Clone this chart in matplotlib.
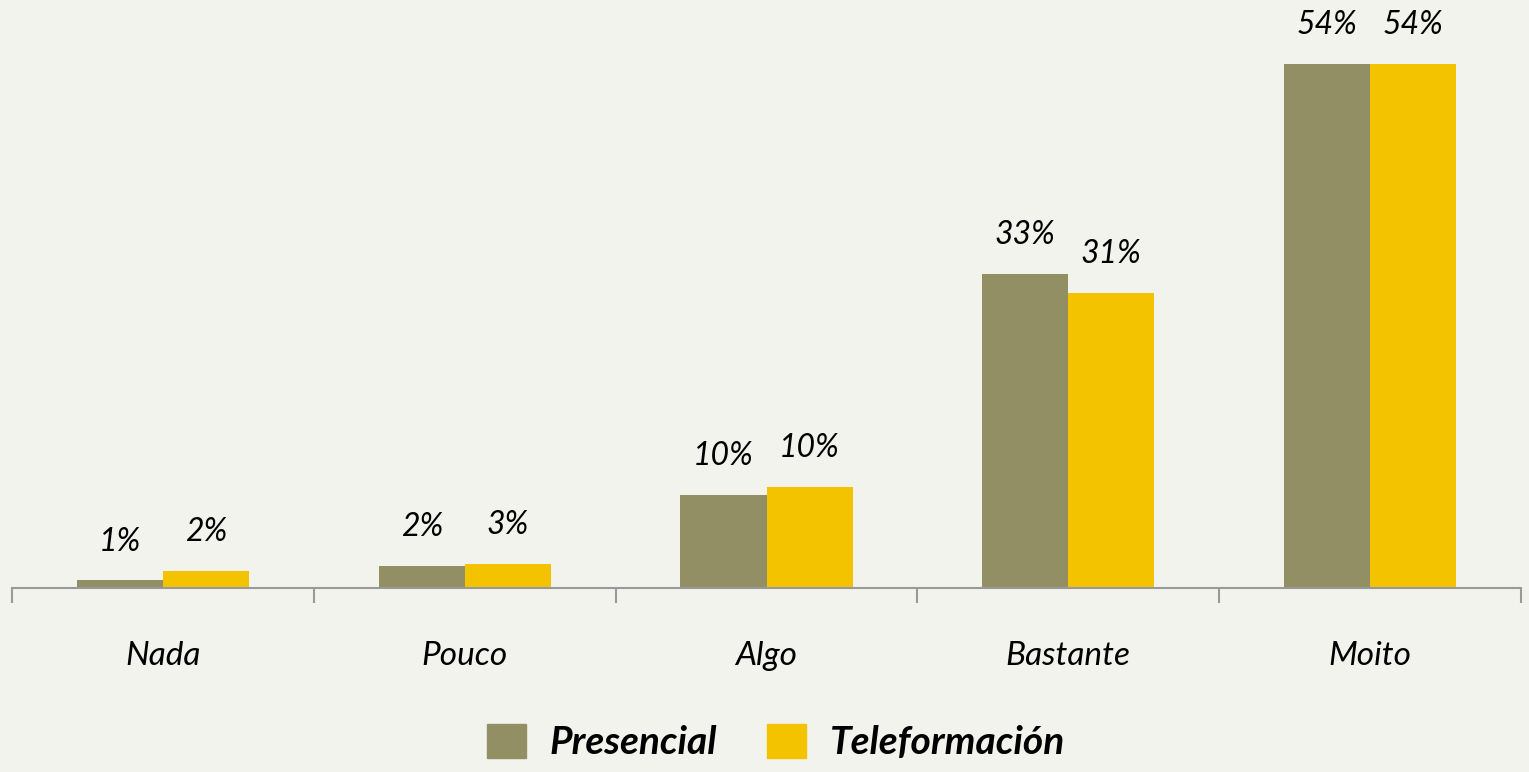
import matplotlib
matplotlib.use("Agg")
import matplotlib.pyplot as plt
import numpy as np
from matplotlib.patches import Patch

categories = ["Nada", "Pouco", "Algo", "Bastante", "Moito"]
presencial = [0.8, 2.3, 9.6, 32.4, 54.0]
teleformacion = [1.75, 2.5, 10.4, 30.4, 54.0]
labels_pres = ["1%", "2%", "10%", "33%", "54%"]
labels_tele = ["2%", "3%", "10%", "31%", "54%"]
series_names = ["Presencial", "Teleformación"]

bg = "#F3F3EE"
c_pres = "#938F65"
c_tele = "#F4C300"
font = ["Lato", "DejaVu Sans"]

W, H = 1529, 772
fig = plt.figure(figsize=(W / 100, H / 100), dpi=100, facecolor=bg)
ax = fig.add_axes([12 / W, 1 - 588 / H, (1521 - 12) / W, 588 / H])
ax.set_facecolor(bg)

x = np.arange(len(categories))
bw = 0.285
b1 = ax.bar(x - bw / 2, presencial, bw, color=c_pres, label=series_names[0])
b2 = ax.bar(x + bw / 2, teleformacion, bw, color=c_tele, label=series_names[1])

ax.set_xlim(-0.5, len(categories) - 0.5)
ax.set_ylim(0, 60.6)

for rects, labs in ((b1, labels_pres), (b2, labels_tele)):
    for r, lab in zip(rects, labs):
        ax.annotate(lab, (r.get_x() + r.get_width() / 2, r.get_height()),
                    xytext=(0, 17), textcoords="offset points", ha="center", va="bottom",
                    fontsize=23, style="italic", family=font, color="black")

for s in ("top", "right", "left"):
    ax.spines[s].set_visible(False)
ax.spines["bottom"].set_color("#999999")
ax.spines["bottom"].set_linewidth(1.5)
ax.set_yticks([])

ax.set_xticks(np.arange(-0.5, len(categories), 1.0))
ax.set_xticklabels([])
ax.tick_params(axis="x", length=11, width=1.5, color="#999999", direction="out")
ax.set_xticks(x, minor=True)
ax.set_xticklabels(categories, minor=True, fontsize=24, style="italic", family=font)
ax.tick_params(axis="x", which="minor", length=0, pad=38)

leg = fig.legend(handles=[Patch(color=c_pres), Patch(color=c_tele)], labels=series_names,
                 loc="center", bbox_to_anchor=(776 / W, 1 - 742 / H), ncol=2, frameon=False,
                 prop={"family": font, "size": 28, "style": "italic", "weight": "bold"},
                 handlelength=1.0, handleheight=1.0, handletextpad=0.6, columnspacing=1.3)

fig.savefig("out.png", dpi=100, facecolor=bg)
